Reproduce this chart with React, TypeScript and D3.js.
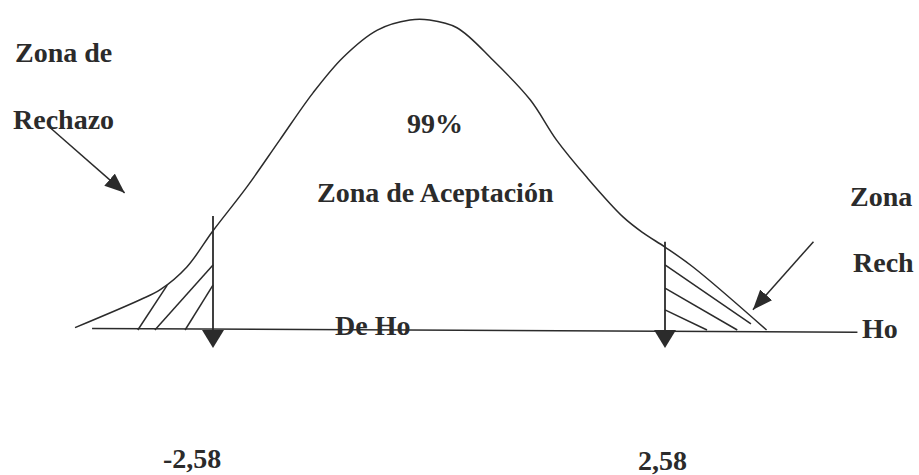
import React from "react";
import * as d3 from "d3";

// critical values of the two-tailed test (99%)
const critLeft = -2.58;
const critRight = 2.58;

// curve: z value and height
const curveZ = [-4.36, -3.52, -3.26, -2.92, -2.58, -2.14, -1.72, -1.29, -0.9, -0.46, -0.04, 0.17, 0.45, 0.82, 1.2, 1.47, 1.78, 2.15, 2.36, 2.58, 2.87, 3.62];
const curveD = [0.003, 0.039, 0.052, 0.081, 0.128, 0.185, 0.245, 0.306, 0.352, 0.387, 0.4, 0.4, 0.39, 0.348, 0.297, 0.245, 0.197, 0.146, 0.125, 0.107, 0.081, 0];

// hatching in the rejection tails: [z1, d1, z2, d2]
const hatchLeft = [
  [-3.55, 0, -3.17, 0.058],
  [-3.33, 0, -2.58, 0.084],
  [-2.94, 0, -2.58, 0.058],
];
const hatchRight = [
  [2.58, 0.084, 3.46, 0.008],
  [2.58, 0.054, 3.32, 0],
  [2.58, 0.026, 3.01, 0],
];

// top of the vertical marks at the critical values
const critTops = [0.147, 0.114];
const critLabels = ["-2,58", "2,58"];

const W = 919;
const H = 475;
const ink = "#2b2b2b";
const font = "'Liberation Serif', 'Times New Roman', serif";

export default function App() {
  const x = d3.scaleLinear().domain([critLeft, 0, critRight]).range([213, 413, 665]);
  const y = d3.scaleLinear().domain([0, 0.4]).range([330, 20]);

  const pts: [number, number][] = curveZ.map((z, i) => [x(z), y(curveD[i])]);
  const curvePath = d3.line().curve(d3.curveCatmullRom.alpha(0.5))(pts) || "";

  const crits = [critLeft, critRight];

  const tri = (cx: number, cy: number) =>
    `M${cx - 11},${cy} L${cx + 11},${cy} L${cx},${cy + 18} Z`;

  const txt = (s: string, tx: number, ty: number, extra: any = {}) => (
    <text
      x={tx}
      y={ty}
      fontFamily={font}
      fontWeight="bold"
      fontSize={28}
      fill={ink}
      {...extra}
    >
      {s}
    </text>
  );

  return (
    <svg
      width={W}
      height={H}
      style={{ position: "absolute", left: 0, top: 0, background: "#fff" }}
    >
      <defs>
        <marker
          id="head"
          markerUnits="userSpaceOnUse"
          markerWidth={22}
          markerHeight={16}
          refX={20}
          refY={8}
          orient="auto"
        >
          <path d="M0,0 L20,8 L0,16 Z" fill={ink} />
        </marker>
      </defs>

      {/* baseline */}
      <line x1={x(-4.14)} x2={x(4.55)} y1={y(0.002)} y2={y(-0.003)} stroke={ink} strokeWidth={1.5} />

      {/* "De Ho" sits on the baseline */}
      {txt("De Ho", 335, 335)}

      {/* normal curve */}
      <path d={curvePath} fill="none" stroke={ink} strokeWidth={1.5} />

      {/* hatching */}
      {[...hatchLeft, ...hatchRight].map((h, i) => (
        <line
          key={i}
          x1={x(h[0])}
          y1={y(h[1])}
          x2={x(h[2])}
          y2={y(h[3])}
          stroke={ink}
          strokeWidth={1.5}
        />
      ))}

      {/* critical value marks */}
      {crits.map((c, i) => (
        <g key={i}>
          <line x1={x(c)} x2={x(c)} y1={y(critTops[i])} y2={y(0)} stroke={ink} strokeWidth={1.8} />
          <path d={tri(x(c), y(0))} fill={ink} />
        </g>
      ))}

      {/* arrows pointing to rejection zones */}
      <line x1={x(-4.68)} y1={y(0.261)} x2={x(-3.72)} y2={y(0.177)} stroke={ink} strokeWidth={1.5} markerEnd="url(#head)" />
      <line x1={x(4.1)} y1={y(0.114)} x2={x(3.48)} y2={y(0.026)} stroke={ink} strokeWidth={1.5} markerEnd="url(#head)" />

      {/* labels */}
      {txt("Zona de", 15, 62)}
      {txt("Rechazo", 13, 129)}
      {txt("99%", 407, 133)}
      {txt("Zona de Aceptación", 317, 202)}
      {txt("Zona", 850, 206)}
      {txt("Rech", 853, 272)}
      {txt("Ho", 862, 338)}
      {txt(critLabels[0], x(critLeft) - 50, 468)}
      {txt(critLabels[1], x(critRight) - 27, 470)}
    </svg>
  );
}
